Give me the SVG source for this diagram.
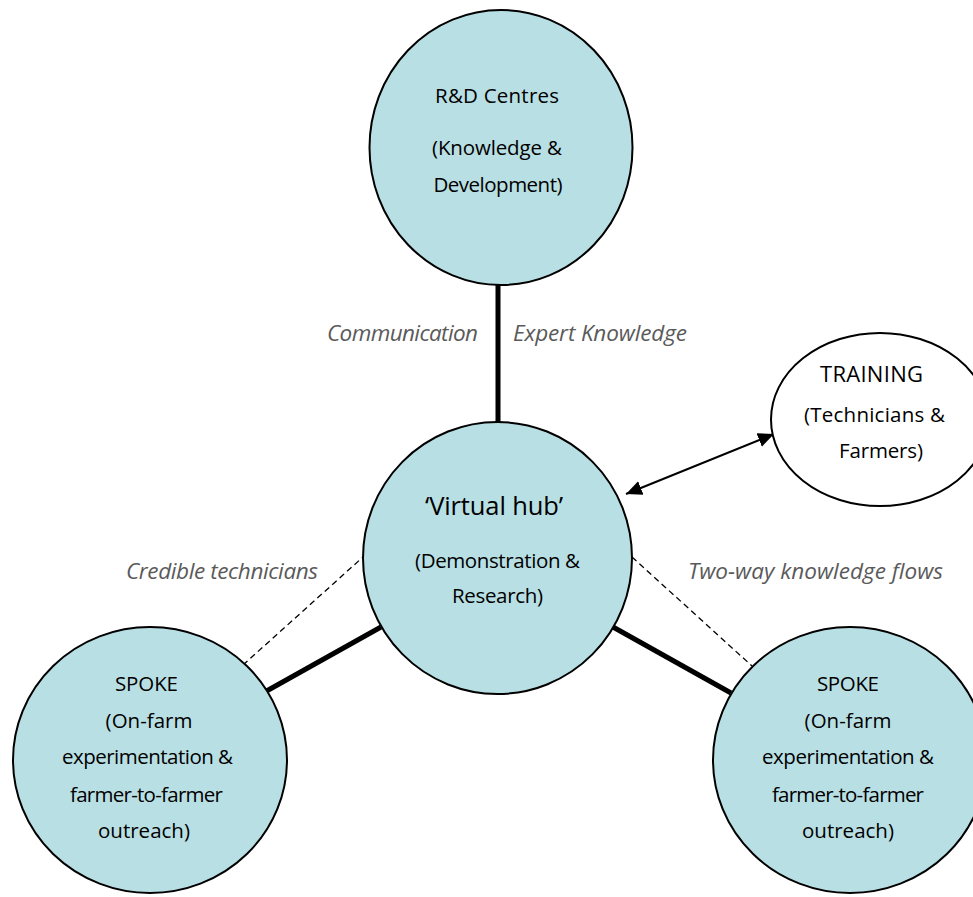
<svg xmlns="http://www.w3.org/2000/svg" width="973" height="897" viewBox="0 0 973 897">
<defs>
<style>
.node{fill:#b8dfe3;stroke:#000;stroke-width:2}
.plain{fill:#fff;stroke:#000;stroke-width:2}
.t{font-family:"Open Sans","Liberation Sans",sans-serif;font-size:20.5px;fill:#000;text-anchor:middle}
.lbl{font-family:"Open Sans","Liberation Sans",sans-serif;font-size:22.5px;font-style:italic;fill:#5a5a5a;text-anchor:middle}
.thick{stroke:#000;stroke-width:5;fill:none}
.dash{stroke:#000;stroke-width:1.3;stroke-dasharray:6 4;fill:none}
.arrow{stroke:#000;stroke-width:2;fill:none}
</style>
<marker id="ah" viewBox="0 0 10 10" refX="10" refY="5" markerWidth="8" markerHeight="8" orient="auto-start-reverse" markerUnits="strokeWidth">
<path d="M0,0.5 L10,5 L0,9.5 z" fill="#000"/>
</marker>
</defs>
<rect width="973" height="897" fill="#fff"/>
<g id="connectors">
<line class="thick" x1="498" y1="285" x2="498" y2="423"/>
<line class="thick" x1="263" y1="693" x2="381" y2="627"/>
<line class="thick" x1="613" y1="627" x2="731" y2="693"/>
<line class="dash" x1="243" y1="665" x2="363" y2="557"/>
<line class="dash" x1="632" y1="557" x2="752" y2="666"/>
<line class="arrow" x1="626" y1="494" x2="774" y2="434" marker-start="url(#ah)" marker-end="url(#ah)"/>
</g>
<g id="rd">
<ellipse class="node" cx="501" cy="147.5" rx="131.5" ry="137.5"/>
<text class="t" x="497" y="103" textLength="124">R&amp;D Centres</text>
<text class="t" x="497" y="155" textLength="130">(Knowledge &amp;</text>
<text class="t" x="498" y="192" textLength="129">Development)</text>
</g>
<g id="hub">
<ellipse class="node" cx="497.5" cy="558" rx="134.5" ry="136"/>
<text class="t" x="494" y="515" style="font-size:25.5px" textLength="138">‘Virtual hub’</text>
<text class="t" x="497.5" y="568" textLength="165">(Demonstration &amp;</text>
<text class="t" x="497.5" y="603" textLength="91">Research)</text>
</g>
<g id="training">
<ellipse class="plain" cx="880" cy="419.5" rx="109" ry="86.5"/>
<text class="t" x="871.5" y="382" style="font-size:22px" textLength="103">TRAINING</text>
<text class="t" x="874.5" y="422" textLength="141">(Technicians &amp;</text>
<text class="t" x="881" y="458" textLength="84">Farmers)</text>
</g>
<g id="spoke-left">
<ellipse class="node" cx="150" cy="760" rx="137" ry="133"/>
<text class="t" x="146.5" y="691" textLength="63">SPOKE</text>
<text class="t" x="149" y="728">(On-farm</text>
<text class="t" x="147.5" y="764" textLength="171">experimentation &amp;</text>
<text class="t" x="146.5" y="802" textLength="153">farmer-to-farmer</text>
<text class="t" x="144" y="838">outreach)</text>
</g>
<g id="spoke-right">
<ellipse class="node" cx="850" cy="760" rx="137" ry="133"/>
<text class="t" x="848" y="691" textLength="62">SPOKE</text>
<text class="t" x="848" y="728">(On-farm</text>
<text class="t" x="848" y="764" textLength="172">experimentation &amp;</text>
<text class="t" x="848" y="802" textLength="152">farmer-to-farmer</text>
<text class="t" x="848" y="838">outreach)</text>
</g>
<g id="labels">
<text class="lbl" x="402.5" y="341" textLength="151">Communication</text>
<text class="lbl" x="600" y="341" textLength="174">Expert Knowledge</text>
<text class="lbl" x="222" y="579" textLength="192">Credible technicians</text>
<text class="lbl" x="815.5" y="579" textLength="255">Two-way knowledge flows</text>
</g>
</svg>
